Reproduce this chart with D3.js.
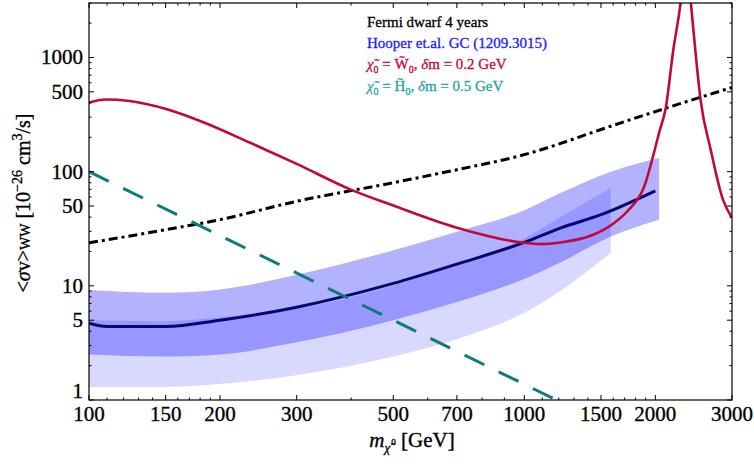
<!DOCTYPE html>
<html><head><meta charset="utf-8">
<script src="https://cdn.jsdelivr.net/npm/d3@7"></script>
<style>
body{margin:0;background:#fff}
svg{display:block}
</style>
</head><body>
<svg id="c" width="754" height="467" font-family="'Liberation Serif', Tinos, 'DejaVu Serif', 'Times New Roman', serif"></svg>
<script>
// ---------- data ----------
const xTickMajor = [100,150,200,300,500,700,1000,1500,2000,3000];
const xTickMinor = [110,120,130,140,160,170,180,190,400,600,800,900,1100,1200,1300,1400,1600,1700,1800,1900];
const yTickMajor = [1,5,10,50,100,500,1000];
const yTickMinor = [2,3,4,6,7,8,9,20,30,40,60,70,80,90,200,300,400,600,700,800,900,2000,3000];

// Fermi dwarf 4 years
const fermiMass  = [100,150,200,300,500,700,1000,1130,1500,2000,3000];
const fermiSigma = [23.8,31,38,55,80,104,141,162,234,336,546];

// Hooper et al. GC best fit
const gcMass  = [100,110,150,200,300,500,700,1000,1210,1500,2000];
const gcSigma = [4.7,4.4,4.4,5.0,6.5,10.5,15.5,24,32,42,68];

// GC band A (wider, to ~2040 GeV)
const bandAMass = [100,150,200,300,500,700,1000,1210,1580,2040];
const bandAHigh = [9.2,8.7,9.3,12.5,20.5,29.8,46,65,100,132];
const bandALow  = [2.5,2.4,2.5,3.2,5.0,7.2,11.5,16,27,38];

// GC band B (lower, to ~1580 GeV)
const bandBMass = [100,150,200,300,500,700,1000,1210,1580];
const bandBHigh = [5.0,4.9,5.3,6.3,10,15.5,26,40,72];
const bandBLow  = [1.3,1.3,1.38,1.65,2.4,3.4,5.8,9,19.5];

// Wino, dm = 0.2 GeV
const winoMass  = [100,109,124,151,180,234,300,398,500,700,1000,1090,1210,1440,1600,1725,1880,2050,2110,2200,2290,2350,2410,2470,2540,2680,2860,3000];
const winoSigma = [403,428,416,352,278,180,117,70,50.5,32.3,23.8,23.2,24,28,35,45,72,234,350,1175,3200,9000,3200,1175,428,156,56.8,39.5];

// Higgsino, dm = 0.5 GeV
const higgsMass  = [100,500,1185];
const higgsSigma = [100,5.0,1.0];

// ---------- layout ----------
const L = 89, R = 732, T = 3, B = 400;
const svg = d3.select("#c");
const x = d3.scaleLog().domain([100,3000]).range([L,R]);
const y = d3.scaleLog().domain([1,3000]).range([B,T]);

svg.append("defs").append("clipPath").attr("id","clip")
  .append("rect").attr("x",L).attr("y",T).attr("width",R-L).attr("height",B-T);
const g = svg.append("g").attr("clip-path","url(#clip)");

const area = d3.area().x(d=>x(d[0])).y0(d=>y(d[1])).y1(d=>y(d[2])).curve(d3.curveMonotoneX);
const line = d3.line().x(d=>x(d[0])).y(d=>y(d[1])).curve(d3.curveMonotoneX);

g.append("path").datum(bandBMass.map((m,i)=>[m,bandBLow[i],bandBHigh[i]]))
  .attr("d",area).attr("fill","rgb(0,0,255)").attr("fill-opacity",0.15);
g.append("path").datum(bandAMass.map((m,i)=>[m,bandALow[i],bandAHigh[i]]))
  .attr("d",area).attr("fill","rgb(0,0,255)").attr("fill-opacity",0.30);

g.append("path").datum(gcMass.map((m,i)=>[m,gcSigma[i]]))
  .attr("d",line).attr("fill","none").attr("stroke","#07076e").attr("stroke-width",3);

g.append("path").datum(fermiMass.map((m,i)=>[m,fermiSigma[i]]))
  .attr("d",line).attr("fill","none").attr("stroke","#000").attr("stroke-width",3)
  .attr("stroke-dasharray","9,4,3,4");

g.append("path").datum(higgsMass.map((m,i)=>[m,higgsSigma[i]]))
  .attr("d",d3.line().x(d=>x(d[0])).y(d=>y(d[1])))
  .attr("fill","none").attr("stroke","#0f7b78").attr("stroke-width",3)
  .attr("stroke-dasharray","22,16");

g.append("path").datum(winoMass.map((m,i)=>[m,winoSigma[i]]))
  .attr("d",line).attr("fill","none").attr("stroke","#c4073a").attr("stroke-width",2.6);

// ---------- frame & ticks ----------
svg.append("rect").attr("x",L).attr("y",T).attr("width",R-L).attr("height",B-T)
  .attr("fill","none").attr("stroke","#000").attr("stroke-width",1.2);

const tk = svg.append("g").attr("stroke","#000").attr("stroke-width",1);
xTickMajor.concat(xTickMinor).forEach(v=>{
  const len = xTickMajor.includes(v)?5:2.5;
  tk.append("line").attr("x1",x(v)).attr("x2",x(v)).attr("y1",B).attr("y2",B-len);
  tk.append("line").attr("x1",x(v)).attr("x2",x(v)).attr("y1",T).attr("y2",T+len);
});
yTickMajor.concat(yTickMinor).forEach(v=>{
  const len = yTickMajor.includes(v)?5:2.5;
  tk.append("line").attr("y1",y(v)).attr("y2",y(v)).attr("x1",L).attr("x2",L+len);
  tk.append("line").attr("y1",y(v)).attr("y2",y(v)).attr("x1",R).attr("x2",R-len);
});

const txt = svg.append("g").attr("stroke-width",0.35);
xTickMajor.forEach(v=>{
  txt.append("text").attr("x",x(v)).attr("y",421).attr("text-anchor","middle")
    .attr("font-size",21).attr("fill","#000").attr("stroke","#000").text(v);
});
yTickMajor.forEach(v=>{
  txt.append("text").attr("x",83).attr("y",v===1?398:y(v)+7).attr("text-anchor","end")
    .attr("font-size",21).attr("fill","#000").attr("stroke","#000").text(v);
});

// ---------- axis labels ----------
const xl = txt.append("text").attr("x",412).attr("y",447).attr("text-anchor","middle")
  .attr("font-size",21).attr("fill","#000").attr("stroke","#000");
xl.append("tspan").attr("font-style","italic").text("m");
xl.append("tspan").attr("font-style","italic").attr("font-size",13).attr("dy",5).text("\u03C7\u0303");
xl.append("tspan").attr("font-size",9).attr("dx",1).attr("dy",-7).text("0");
xl.append("tspan").attr("dy",2).text(" [GeV]");

const yl = txt.append("text").attr("transform","translate(30,203) rotate(-90)")
  .attr("text-anchor","middle").attr("font-size",20).attr("fill","#000").attr("stroke","#000");
yl.append("tspan").text("<");
yl.append("tspan").attr("font-style","italic").text("\u03C3");
yl.append("tspan").text("v>");
yl.append("tspan").attr("font-size",14).text("WW");
yl.append("tspan").text(" [10");
yl.append("tspan").attr("font-size",14).attr("dy",-8).text("\u221226");
yl.append("tspan").attr("dy",8).text(" cm");
yl.append("tspan").attr("font-size",14).attr("dy",-8).text("3");
yl.append("tspan").attr("dy",8).text("/s]");

// ---------- legend ----------
const lx = 367;
const lg = svg.append("g").attr("stroke-width",0.3);
lg.append("text").attr("x",lx).attr("y",27).attr("font-size",15)
  .attr("fill","#000").attr("stroke","#000").text("Fermi dwarf 4 years");
lg.append("text").attr("x",lx).attr("y",48).attr("font-size",15)
  .attr("fill","#1a1aff").attr("stroke","#1a1aff").text("Hooper et.al. GC (1209.3015)");

function chiLine(yy, color, part, dm){
  const t = lg.append("text").attr("x",lx).attr("y",yy).attr("font-size",15)
    .attr("fill",color).attr("stroke",color);
  t.append("tspan").attr("font-style","italic").text("\u03C7\u0303");
  t.append("tspan").attr("font-size",10).attr("dy",4).text("0");
  t.append("tspan").attr("dy",-4).text(" = "+part+"\u0303");
  t.append("tspan").attr("font-size",10).attr("dy",4).text("0");
  t.append("tspan").attr("dy",-4).text(", ");
  t.append("tspan").attr("font-style","italic").text("\u03B4");
  t.append("tspan").text("m = "+dm+" GeV");
}
chiLine(69, "#c4073a", "W", "0.2");
chiLine(91, "#1fa5a5", "H", "0.5");
</script>
</body></html>
